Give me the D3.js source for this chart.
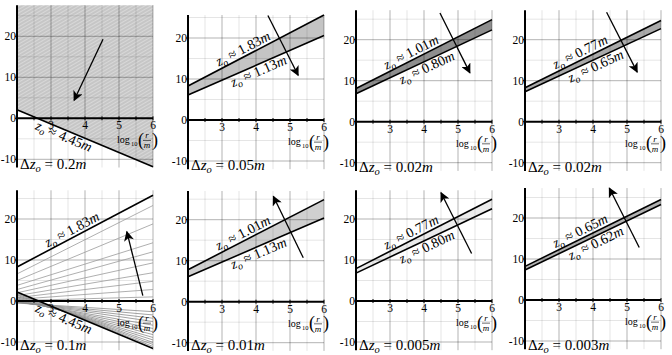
<!DOCTYPE html>
<html>
<head>
<meta charset="utf-8">
<script src="https://cdn.jsdelivr.net/npm/d3@7"></script>
<style>
  body { margin: 0; background: #fff; }
  svg { display: block; }
  text { font-family: "Liberation Serif", "DejaVu Serif", serif; fill: #000; }
</style>
</head>
<body>
<svg id="svg" width="672" height="355"></svg>
<script>
"use strict";

// values, one entry per panel (row by row)
const xTicks = [3, 4, 5, 6];
const xMinor = [2.5, 3.5, 4.5, 5.5];
const yTicks = [-10, 0, 10, 20];
const yMinor = [-5, 5, 15, 25];
const deltaZ = ["0.2", "0.05", "0.02", "0.02", "0.1", "0.01", "0.005", "0.003"];
const upperZ = [null, "1.83", "1.01", "0.77", "1.83", "1.01", "0.77", "0.65"];
const lowerZ = ["4.45", "1.13", "0.80", "0.65", "4.45", "1.13", "0.80", "0.62"];
const yMax = [27.6, 25.6, 27.2, 27.2, 27.0, 27.0, 27.0, 27.3];
// profile value at log10(r/m) = 2 and at 6
const upperLine = [null, [8.3, 25.6], [8.1, 24.9], [8.3, 24.7], [8.3, 25.8], [7.8, 24.9], [7.9, 24.8], [8.2, 24.5]];
const lowerLine = [[2.1, -11.8], [6.1, 20.6], [6.8, 22.4], [7.3, 22.7], [2.2, -11.6], [6.1, 20.4], [6.8, 22.5], [7.3, 23.3]];
// thin profiles of the dz = 0.1m panel
const fanUp = [[6.6, 23.3], [5.0, 18.8], [3.8, 14.2], [2.8, 12.0], [2.0, 9.3], [1.3, 6.9], [0.8, 4.8], [0.4, 2.8], [0.1, 1.0]];
const fanDown = [[2.0, -11.1], [1.7, -10.6], [1.4, -10.1], [1.1, -9.5], [0.8, -8.9], [0.5, -8.2], [0.3, -7.5],
                 [0.1, -6.7], [-0.1, -5.9], [-0.2, -5.0], [-0.3, -4.2], [-0.4, -3.4], [-0.5, -2.6]];
// arrows: from (x, y) to (x, y)
const arrows = [[4.53, 19.3, 3.68, 4.4], [4.35, 25.5, 5.24, 10.9], [4.47, 26.5, 5.35, 11.9], [4.40, 26.7, 5.30, 12.1],
                [5.70, 1.3, 5.23, 16.9], [5.39, 10.7, 4.51, 25.7], [5.40, 11.6, 4.50, 26.4], [5.36, 12.8, 4.48, 27.3]];

// layout
const axisX = [17, 188, 356, 525, 17, 188, 356, 525];
const zeroY = [118.3, 120, 121.7, 121.7, 301, 301.7, 301, 300];
const plotW = 136;
const unit = 4.1;
const bandShade = [null, "#c4c4c4", "#8e8e8e", "#aaaaaa", null, "#d0d0d0", "#ebebeb", "#b2b2b2"];

var svg = d3.select("svg");

var defs = svg.append("defs");
defs.append("marker")
    .attr("id", "head")
    .attr("viewBox", "0 0 10 10")
    .attr("refX", 9).attr("refY", 5)
    .attr("markerWidth", 11).attr("markerHeight", 10)
    .attr("markerUnits", "userSpaceOnUse")
    .attr("orient", "auto")
  .append("path")
    .attr("d", "M0,0 L10,5 L0,10 L2.5,5 Z")
    .attr("fill", "#000");

var hatch = defs.append("pattern")
    .attr("id", "hatch")
    .attr("patternUnits", "userSpaceOnUse")
    .attr("width", 3).attr("height", 3)
    .attr("patternTransform", "rotate(-30)");
hatch.append("rect").attr("width", 3).attr("height", 3).attr("fill", "#d8d8d8");
hatch.append("line").attr("x1", 0).attr("y1", 1).attr("x2", 3).attr("y2", 1)
    .attr("stroke", "#b4b4b4").attr("stroke-width", 1);

function zLabel(sel, value)
{
    sel.append("tspan").attr("font-style", "italic").text("z");
    sel.append("tspan").attr("font-style", "italic").attr("font-size", "0.7em").attr("dy", 3).text("o");
    sel.append("tspan").attr("dy", -3).text(" \u2248 " + value);
    sel.append("tspan").attr("font-style", "italic").text("m");
}

function drawPanel(i)
{
    const x = d3.scaleLinear().domain([2, 6]).range([axisX[i], axisX[i] + plotW]);
    const y = d3.scaleLinear().domain([-12, yMax[i]])
        .range([zeroY[i] + 12 * unit, zeroY[i] - yMax[i] * unit]);

    const g = svg.append("g");
    const ends = v => [[2, v[0]], [6, v[1]]];
    const line = d3.line().x(d => x(d[0])).y(d => y(d[1]));

    // shaded families
    if (i === 0)
    {
        const yTop = yMax[i];
        g.append("path")
            .datum(ends(lowerLine[i]))
            .attr("d", d3.area().x(d => x(d[0])).y0(y(yTop)).y1(d => y(d[1])))
            .attr("fill", "url(#hatch)");
    }
    if (bandShade[i])
    {
        const band = [[2, upperLine[i][0], lowerLine[i][0]], [6, upperLine[i][1], lowerLine[i][1]]];
        g.append("path")
            .datum(band)
            .attr("d", d3.area().x(d => x(d[0])).y0(d => y(d[1])).y1(d => y(d[2])))
            .attr("fill", bandShade[i]);
    }

    // grid
    g.append("g").selectAll("line").data(xMinor).join("line")
        .attr("x1", d => x(d)).attr("x2", d => x(d))
        .attr("y1", y(yMax[i])).attr("y2", y(-12))
        .attr("stroke", "#000").attr("stroke-opacity", 0.1);
    g.append("g").selectAll("line").data(yMinor).join("line")
        .attr("x1", x(2)).attr("x2", x(6))
        .attr("y1", d => y(d)).attr("y2", d => y(d))
        .attr("stroke", "#000").attr("stroke-opacity", 0.1);
    g.append("g").selectAll("line").data(xTicks).join("line")
        .attr("x1", d => x(d)).attr("x2", d => x(d))
        .attr("y1", y(yMax[i])).attr("y2", y(-12))
        .attr("stroke", "#000").attr("stroke-opacity", 0.3);
    g.append("g").selectAll("line").data(yTicks.filter(d => d !== 0)).join("line")
        .attr("x1", x(2)).attr("x2", x(6))
        .attr("y1", d => y(d)).attr("y2", d => y(d))
        .attr("stroke", "#000").attr("stroke-opacity", 0.3);

    // thin profiles
    if (i === 4)
    {
        g.append("g").selectAll("path").data(fanUp).join("path")
            .attr("d", d => line(ends(d)))
            .attr("fill", "none").attr("stroke", "#9a9a9a").attr("stroke-width", 0.8);
        g.append("g").selectAll("path").data(fanDown).join("path")
            .attr("d", d => line(ends(d)))
            .attr("fill", "none").attr("stroke", "#8a8a8a").attr("stroke-width", 0.8);
    }

    // bounding profiles
    [upperLine[i], lowerLine[i]].forEach(function(v) {
        if (!v) return;
        g.append("path")
            .attr("d", line(ends(v)))
            .attr("fill", "none").attr("stroke", "#000").attr("stroke-width", 1.6);
    });

    // axes
    g.append("line")
        .attr("x1", x(2)).attr("x2", x(2))
        .attr("y1", y(yMax[i])).attr("y2", y(-12))
        .attr("stroke", "#000").attr("stroke-width", 2);
    g.append("line")
        .attr("x1", x(2)).attr("x2", x(6))
        .attr("y1", y(0)).attr("y2", y(0))
        .attr("stroke", "#000").attr("stroke-width", 2);
    g.append("g").selectAll("line").data(xMinor.concat(xTicks)).join("line")
        .attr("x1", d => x(d)).attr("x2", d => x(d))
        .attr("y1", y(0) - 2).attr("y2", y(0) + 2)
        .attr("stroke", "#000").attr("stroke-width", 1);
    g.append("g").selectAll("line").data(yTicks).join("line")
        .attr("x1", x(2) - 2).attr("x2", x(2))
        .attr("y1", d => y(d)).attr("y2", d => y(d))
        .attr("stroke", "#000").attr("stroke-width", 1);

    g.append("g").selectAll("text").data(xTicks).join("text")
        .attr("x", d => x(d)).attr("y", y(0) + 11)
        .attr("text-anchor", "middle").attr("font-size", 11.5)
        .text(d => d);
    g.append("g").selectAll("text").data(yTicks).join("text")
        .attr("x", x(2) - 1).attr("y", d => y(d) + 4)
        .attr("text-anchor", "end").attr("font-size", 11.5)
        .text(d => d);

    // log10(r/m) label
    const lg = g.append("g").attr("transform", "translate(" + (x(6) + 4) + "," + y(-5.4) + ")");
    lg.append("text").attr("x", -40).attr("y", 3).attr("font-size", 10).text("log");
    lg.append("text").attr("x", -26).attr("y", 6).attr("font-size", 6.5).text("10");
    lg.append("text").attr("x", -19).attr("y", 5.5).attr("font-size", 18).text("(");
    lg.append("text").attr("x", -10).attr("y", -2).attr("text-anchor", "middle")
        .attr("font-size", 9).attr("font-style", "italic").text("r");
    lg.append("line").attr("x1", -14).attr("x2", -6).attr("y1", 0).attr("y2", 0)
        .attr("stroke", "#000").attr("stroke-width", 0.6);
    lg.append("text").attr("x", -10).attr("y", 8).attr("text-anchor", "middle")
        .attr("font-size", 9).attr("font-style", "italic").text("m");
    lg.append("text").attr("x", -5).attr("y", 5.5).attr("font-size", 18).text(")");

    // z_o labels along the profiles
    const placeLabel = function(v, value, xc, above) {
        const angle = Math.atan2(y(v[1]) - y(v[0]), x(6) - x(2)) * 180 / Math.PI;
        const yc = v[0] + (v[1] - v[0]) * (xc - 2) / 4;
        g.append("text")
            .attr("transform", "translate(" + x(xc) + "," + y(yc) + ") rotate(" + angle + ")")
            .attr("y", above ? -3 : 11)
            .attr("text-anchor", "middle").attr("font-size", 14)
            .call(zLabel, value);
    };
    if (upperLine[i]) placeLabel(upperLine[i], upperZ[i], 3.72, true);
    placeLabel(lowerLine[i], lowerZ[i], (i % 4 === 0) ? 3.45 : 4.0, false);

    // arrow
    const a = arrows[i];
    g.append("line")
        .attr("x1", x(a[0])).attr("y1", y(a[1]))
        .attr("x2", x(a[2])).attr("y2", y(a[3]))
        .attr("stroke", "#000").attr("stroke-width", 1.3)
        .attr("marker-end", "url(#head)");

    // delta z_o label
    const dl = g.append("text")
        .attr("x", x(2) + 3).attr("y", Math.min(y(-12) + 1, 350))
        .attr("font-size", 15);
    dl.append("tspan").text("\u0394");
    dl.append("tspan").attr("font-style", "italic").text("z");
    dl.append("tspan").attr("font-style", "italic").attr("font-size", "0.7em").attr("dy", 3).text("o");
    dl.append("tspan").attr("dy", -3).text(" = " + deltaZ[i]);
    dl.append("tspan").attr("font-style", "italic").text("m");
}

for (let i = 0; i < 8; i++) drawPanel(i);
</script>
</body>
</html>
